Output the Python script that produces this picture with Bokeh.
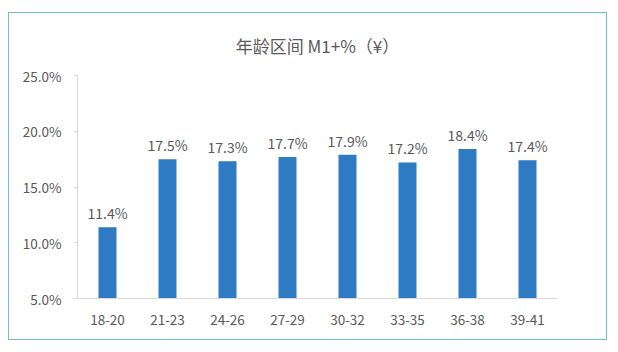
from bokeh.plotting import figure
from bokeh.models import ColumnDataSource, NumeralTickFormatter, FixedTicker, Range1d
from bokeh.core.properties import value
from bokeh.embed import file_html
from bokeh.resources import INLINE

categories = ["18-20", "21-23", "24-26", "27-29", "30-32", "33-35", "36-38", "39-41"]
rates = [0.114, 0.175, 0.173, 0.177, 0.179, 0.172, 0.184, 0.174]
labels = ["11.4%", "17.5%", "17.3%", "17.7%", "17.9%", "17.2%", "18.4%", "17.4%"]
y_ticks = [0.05, 0.10, 0.15, 0.20, 0.25]

FONT = "Noto Sans CJK SC"
GRAY = "#595959"

src = ColumnDataSource(dict(cat=categories, rate=rates, lab=labels))

p = figure(x_range=categories, y_range=Range1d(0.05, 0.25),
           width=599, height=328, output_backend="svg", toolbar_location=None,
           title="年龄区间 M1+%（¥）",
           min_border_left=68, min_border_right=51, min_border_top=60, min_border_bottom=43)
p.margin = (12, 0, 0, 8)
p.styles = {"border": "1.5px solid #72bcd6", "box-sizing": "border-box"}

p.vbar(x="cat", top="rate", bottom=0.05, width=0.3, source=src,
       fill_color="#2e7bc4", line_color=None)
p.text(x="cat", y="rate", text="lab", source=src, y_offset=-4,
       text_align="center", text_baseline="bottom",
       text_font=value(FONT), text_font_size="14px", text_color=GRAY)

p.title.align = "center"
p.title.text_font = FONT
p.title.text_font_size = "17px"
p.title.text_font_style = "normal"
p.title.text_color = GRAY
p.title.standoff = 35

p.xgrid.grid_line_color = None
p.ygrid.grid_line_color = None
p.outline_line_color = None
p.background_fill_color = "white"
p.border_fill_color = "white"

p.yaxis.ticker = FixedTicker(ticks=y_ticks)
p.yaxis.formatter = NumeralTickFormatter(format="0.0%")
p.yaxis.axis_line_color = "#d9d9d9"
p.yaxis.major_tick_line_color = "#d9d9d9"
p.yaxis.major_tick_out = 4
p.yaxis.major_tick_in = 0
p.yaxis.minor_tick_line_color = None
p.yaxis.major_label_standoff = 12

p.xaxis.axis_line_color = "#d9d9d9"
p.xaxis.major_tick_line_color = None
p.xaxis.minor_tick_line_color = None
p.xaxis.major_label_standoff = 10

for ax in (p.xaxis, p.yaxis):
    ax.major_label_text_font = FONT
    ax.major_label_text_font_size = "13.5px"
    ax.major_label_text_color = GRAY

open("out.html", "w").write(file_html(p, INLINE))
